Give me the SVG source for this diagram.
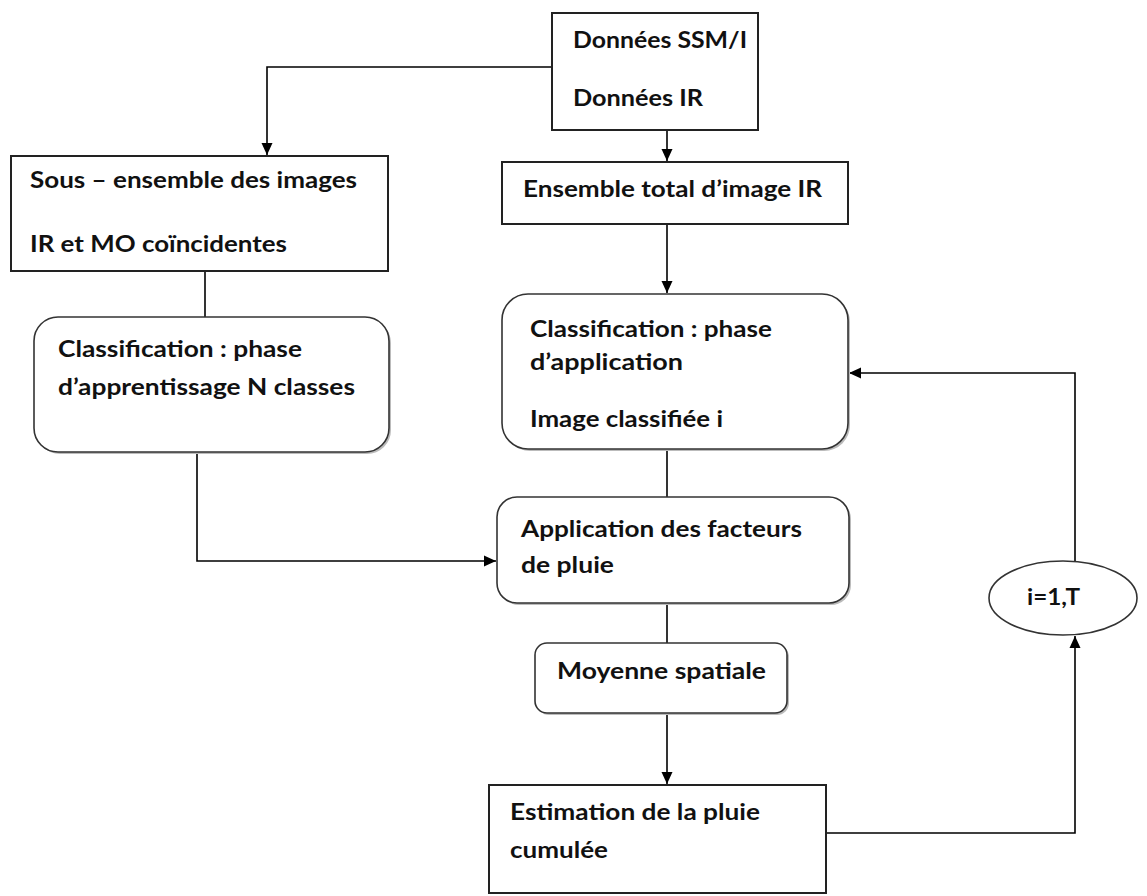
<svg xmlns="http://www.w3.org/2000/svg" width="1147" height="896" viewBox="0 0 1147 896">
<defs>
<marker id="arr" viewBox="0 0 12 12" refX="12" refY="6" markerWidth="12" markerHeight="12" markerUnits="userSpaceOnUse" orient="auto">
<path d="M0,0.5 L12,6 L0,11.5 Z" fill="#000"/>
</marker>
</defs>
<style>
.box{fill:#fff;stroke:#222;stroke-width:2}
.rbox{fill:#fff;stroke:#333;stroke-width:1.6}
.sh{fill:#bbb;stroke:none}
.t{font-family:"Lato","Liberation Sans",sans-serif;font-weight:700;font-size:23px;fill:#111}
.c{fill:none;stroke:#000;stroke-width:1.6}
</style>
<rect width="1147" height="896" fill="#fff"/>
<g id="connectors">
<path class="c" d="M552,67 H267 V155" marker-end="url(#arr)"/>
<path class="c" d="M667,130 V161" marker-end="url(#arr)"/>
<path class="c" d="M667,224 V293" marker-end="url(#arr)"/>
<path class="c" d="M205,271 V317"/>
<path class="c" d="M197,452 V561 H496" marker-end="url(#arr)"/>
<path class="c" d="M667,449 V497"/>
<path class="c" d="M667,603 V643"/>
<path class="c" d="M667,713 V784" marker-end="url(#arr)"/>
<path class="c" d="M826,833 H1075 V636" marker-end="url(#arr)"/>
<path class="c" d="M1075,561 V373 H849" marker-end="url(#arr)"/>
</g>
<g id="n-donnees">
<rect class="box" x="552" y="13" width="206" height="117"/>
<text class="t" x="573" y="48" textLength="174" lengthAdjust="spacingAndGlyphs">Données SSM/I</text>
<text class="t" x="573" y="106" textLength="130" lengthAdjust="spacingAndGlyphs">Données IR</text>
</g>
<g id="n-sous">
<rect class="box" x="11" y="156" width="377" height="115"/>
<text class="t" x="30" y="188" textLength="327" lengthAdjust="spacingAndGlyphs">Sous – ensemble des images</text>
<text class="t" x="30" y="252" textLength="257" lengthAdjust="spacingAndGlyphs">IR et MO coïncidentes</text>
</g>
<g id="n-ensemble">
<rect class="box" x="502" y="162" width="346" height="62"/>
<text class="t" x="523" y="197" textLength="299" lengthAdjust="spacingAndGlyphs">Ensemble total d’image IR</text>
</g>
<g id="n-class-app">
<rect class="sh" x="504" y="296" width="346" height="155" rx="26"/>
<rect class="rbox" x="502" y="294" width="346" height="155" rx="26"/>
<text class="t" x="530" y="337" textLength="242" lengthAdjust="spacingAndGlyphs">Classification : phase</text>
<text class="t" x="530" y="370" textLength="153" lengthAdjust="spacingAndGlyphs">d’application</text>
<text class="t" x="530" y="427" textLength="193" lengthAdjust="spacingAndGlyphs">Image classifiée i</text>
</g>
<g id="n-class-learn">
<rect class="sh" x="36" y="319" width="355" height="135" rx="24"/>
<rect class="rbox" x="34" y="317" width="355" height="135" rx="24"/>
<text class="t" x="58" y="357" textLength="244" lengthAdjust="spacingAndGlyphs">Classification : phase</text>
<text class="t" x="58" y="395" textLength="297" lengthAdjust="spacingAndGlyphs">d’apprentissage N classes</text>
</g>
<g id="n-application">
<rect class="sh" x="499" y="499" width="352" height="106" rx="20"/>
<rect class="rbox" x="497" y="497" width="352" height="106" rx="20"/>
<text class="t" x="521" y="537" textLength="281" lengthAdjust="spacingAndGlyphs">Application des facteurs</text>
<text class="t" x="521" y="573" textLength="93" lengthAdjust="spacingAndGlyphs">de pluie</text>
</g>
<g id="n-moyenne">
<rect class="sh" x="537" y="645" width="252" height="70" rx="12"/>
<rect class="rbox" x="535" y="643" width="252" height="70" rx="12"/>
<text class="t" x="557" y="679" textLength="209" lengthAdjust="spacingAndGlyphs">Moyenne spatiale</text>
</g>
<g id="n-estimation">
<rect class="box" x="489" y="785" width="337" height="108"/>
<text class="t" x="510" y="820" textLength="250" lengthAdjust="spacingAndGlyphs">Estimation de la pluie</text>
<text class="t" x="510" y="858" textLength="98" lengthAdjust="spacingAndGlyphs">cumulée</text>
</g>
<g id="n-loop">
<ellipse cx="1063" cy="598" rx="74" ry="37" fill="#fff" stroke="#333" stroke-width="1.6"/>
<text class="t" x="1027" y="605" textLength="53" lengthAdjust="spacingAndGlyphs">i=1,T</text>
</g>
</svg>
